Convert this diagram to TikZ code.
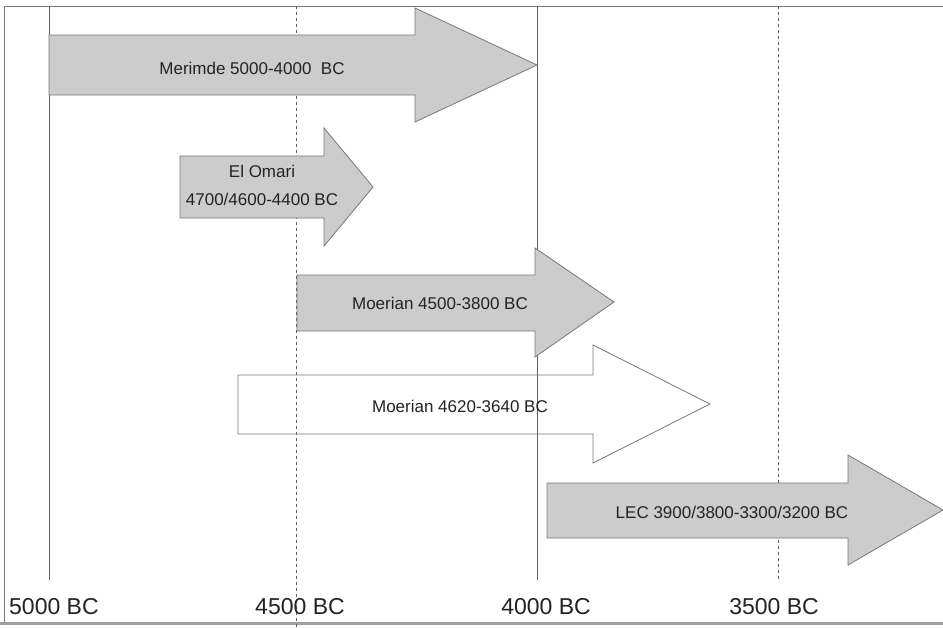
\documentclass[tikz,border=0pt]{standalone}
\usepackage{fontspec}
\setmainfont{Liberation Sans}
\usepackage{tikz}

\definecolor{bargray}{RGB}{204,204,204}
\definecolor{edgegray}{RGB}{120,120,120}
\definecolor{inkgray}{RGB}{35,35,35}

\begin{document}
\begin{tikzpicture}[
    x=1pt, y=-1pt,
    period/.style={draw=edgegray, fill=bargray, line width=0.8pt},
    open period/.style={draw=edgegray, line width=0.8pt},
    year line/.style={draw=edgegray!80!black, line width=0.6pt},
    label/.style={text=inkgray, font=\fontsize{17}{20}\selectfont, inner sep=0pt},
    year/.style={text=inkgray, font=\fontsize{23}{26}\selectfont, inner sep=0pt}
]
\useasboundingbox (0,0) rectangle (943,627);
\fill[white] (0,0) rectangle (943,627);

% frame
\draw[edgegray, line width=1pt] (4,6) -- (943,6);
\draw[edgegray, line width=1pt] (4,6) -- (4,622);
\draw[edgegray!70, line width=3pt] (0,623) -- (943,623);

% year lines
\draw[year line] (49,6) -- (49,580);
\draw[year line, dashed] (296,6) -- (296,627);
\draw[year line] (537,6) -- (537,580);
\draw[year line, dashed] (778,6) -- (778,580);

% periods
\draw[period] (49,35) -- (415,35) -- (415,8) -- (537,65) -- (415,122) -- (415,95) -- (49,95) -- cycle;
\node[label] (merimde) at (252,68) {Merimde 5000-4000\ \ BC};

\draw[period] (180,156) -- (324,156) -- (324,128) -- (373,187) -- (324,246) -- (324,218) -- (180,218) -- cycle;
\node[label] (omari) at (262,171) {El Omari};
\node[label] (omaridate) at (262,199) {4700/4600-4400 BC};

\draw[period] (297,275) -- (535,275) -- (535,248) -- (614,302) -- (535,357) -- (535,331) -- (297,331) -- cycle;
\node[label] (moerianA) at (440,303) {Moerian 4500-3800 BC};

\draw[open period] (238,375) -- (593,375) -- (593,345) -- (710,404) -- (593,463) -- (593,434) -- (238,434) -- cycle;
\node[label] (moerianB) at (460,406) {Moerian 4620-3640 BC};

\draw[period] (547,483) -- (848,483) -- (848,455) -- (943,510) -- (848,565) -- (848,538) -- (547,538) -- cycle;
\node[label] (lec) at (732,512) {LEC 3900/3800-3300/3200 BC};

% axis labels
\node[year, anchor=west] (y5000) at (9,607) {5000 BC};
\node[year] (y4500) at (300,607) {4500 BC};
\node[year] (y4000) at (546,607) {4000 BC};
\node[year] (y3500) at (774,607) {3500 BC};
\end{tikzpicture}
\end{document}
